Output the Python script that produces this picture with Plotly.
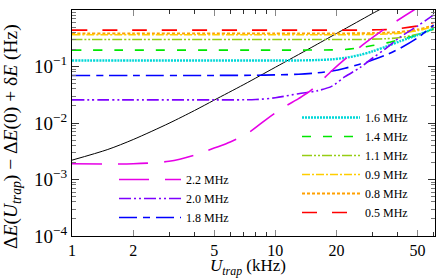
import plotly.graph_objects as go

# ---- data ----
U_black = [1, 1.5, 2, 3, 4, 5, 7, 10, 15, 20, 25, 30, 34]
E_black = [0.0022, 0.0034, 0.0051, 0.0099, 0.0166, 0.0254, 0.048, 0.097, 0.216, 0.385, 0.60, 0.865, 1.1]

U = [1, 2, 5, 8, 10, 13, 16, 19, 22, 26, 30, 35, 41, 50, 60]
E_05 = [0.44, 0.44, 0.44, 0.44, 0.44, 0.44, 0.44, 0.44, 0.44, 0.44, 0.445, 0.45, 0.47, 0.52, 0.60]
E_08 = [0.385, 0.385, 0.385, 0.385, 0.385, 0.385, 0.385, 0.385, 0.385, 0.387, 0.39, 0.395, 0.41, 0.45, 0.53]
E_09 = [0.365, 0.365, 0.365, 0.365, 0.365, 0.365, 0.365, 0.365, 0.365, 0.367, 0.37, 0.375, 0.39, 0.43, 0.51]
E_11 = [0.30, 0.30, 0.30, 0.30, 0.30, 0.30, 0.30, 0.30, 0.30, 0.30, 0.305, 0.31, 0.325, 0.37, 0.45]
E_14 = [0.195, 0.195, 0.195, 0.195, 0.195, 0.195, 0.196, 0.197, 0.20, 0.215, 0.235, 0.26, 0.30, 0.36, 0.47]
E_16 = [0.128, 0.128, 0.128, 0.128, 0.128, 0.128, 0.13, 0.134, 0.142, 0.16, 0.185, 0.225, 0.28, 0.36, 0.47]
E_18 = [0.0695, 0.0695, 0.0695, 0.070, 0.071, 0.073, 0.077, 0.083, 0.093, 0.11, 0.13, 0.16, 0.21, 0.32, 0.54]
E_20 = [0.0257, 0.0257, 0.0257, 0.026, 0.028, 0.033, 0.037, 0.045, 0.066, 0.095, 0.14, 0.21, 0.33, 0.52, 0.82]

U_22 = [1, 2, 3, 4, 5, 6, 7.5, 9, 11, 13, 15, 19, 22, 28, 35, 48, 60]
E_22 = [0.0019, 0.0019, 0.0021, 0.0027, 0.0036, 0.0046, 0.0070, 0.0115, 0.019, 0.027, 0.038,
        0.085, 0.135, 0.27, 0.48, 1.0, 1.6]

labels = ["0.5 MHz", "0.8 MHz", "0.9 MHz", "1.1 MHz", "1.4 MHz", "1.6 MHz", "1.8 MHz", "2.0 MHz", "2.2 MHz"]

x_tickvals = [1, 2, 5, 10, 20, 50]
x_ticktext = ["1", "2", "5", "10", "20", "50"]
x_minor = [3, 4, 6, 7, 8, 9, 30, 40, 60]
y_tickvals = [1e-4, 1e-3, 1e-2, 1e-1, 1]
y_ticktext = ["10<sup>−4</sup>", "10<sup>−3</sup>", "10<sup>−2</sup>", "10<sup>−1</sup>", "10<sup>0</sup>"]
y_minor = [m * 10 ** e for e in (-4, -3, -2, -1) for m in range(2, 10)]

# ---- styles ----
series = [
    (U, E_05, labels[0], "rgb(255,0,0)", "longdash", 1.6, "legend"),
    (U, E_08, labels[1], "rgb(255,160,0)", "3px,2px", 2.0, "legend"),
    (U, E_09, labels[2], "rgb(255,205,0)", "8px,2px,2px,2px", 1.6, "legend"),
    (U, E_11, labels[3], "rgb(150,205,20)", "10px,2px,2px,2px,2px,2px", 1.6, "legend"),
    (U, E_14, labels[4], "rgb(0,230,0)", "9px,12px", 1.6, "legend"),
    (U, E_16, labels[5], "rgb(0,215,215)", "2px,1px", 2.4, "legend"),
    (U, E_18, labels[6], "rgb(0,0,255)", "18px,6px,7px,6px", 1.6, "legend2"),
    (U, E_20, labels[7], "rgb(125,0,255)", "12px,3px,2px,3px,2px,3px", 1.6, "legend2"),
    (U_22, E_22, labels[8], "rgb(230,0,230)", "30px,16px", 1.6, "legend2"),
]

FONT = "Liberation Serif"

fig = go.Figure()
fig.add_trace(go.Scatter(x=U_black, y=E_black, mode="lines", showlegend=False,
                         line=dict(color="black", width=1, shape="spline", smoothing=0.8)))
for x, y, name, col, dash, w, lg in series:
    fig.add_trace(go.Scatter(x=x, y=y, mode="lines", name=name, legend=lg,
                             line=dict(color=col, width=w, dash=dash, shape="spline", smoothing=0.8)))

W, H = 436, 278
ml, mr, mt, mb = 72, 1, 10, 42
pw, ph = W - ml - mr, H - mt - mb

def px_x(p):
    return (p - ml) / pw

def px_y(p):
    return (H - mb - p) / ph

fig.update_layout(
    width=W, height=H,
    margin=dict(l=ml, r=mr, t=mt, b=mb, autoexpand=False),
    plot_bgcolor="white", paper_bgcolor="white",
    font=dict(family=FONT, size=16, color="black"),
    xaxis=dict(type="log", range=[0, 1.785], tickvals=x_tickvals, ticktext=x_ticktext,
               ticks="inside", ticklen=6, tickcolor="#888", showline=True, linecolor="black",
               linewidth=1, mirror="allticks", showgrid=False, zeroline=False, automargin=False,
               tickfont=dict(family=FONT, size=16),
               minor=dict(tickvals=x_minor, ticks="inside", ticklen=4, tickcolor="#333", showgrid=False)),
    yaxis=dict(type="log", range=[-4, 0], tickvals=y_tickvals, ticktext=y_ticktext,
               ticks="inside", ticklen=7, tickcolor="#333", showline=True, linecolor="black",
               linewidth=1, mirror="allticks", showgrid=False, zeroline=False, automargin=False,
               tickfont=dict(family=FONT, size=19),
               minor=dict(tickvals=y_minor, ticks="inside", ticklen=4, tickcolor="#777", showgrid=False)),
    legend=dict(x=px_x(297), y=px_y(103), xanchor="left", yanchor="top", traceorder="reversed",
                bgcolor="rgba(0,0,0,0)", font=dict(family=FONT, size=12), tracegroupgap=0, itemwidth=58),
    legend2=dict(x=px_x(114), y=px_y(165), xanchor="left", yanchor="top", traceorder="reversed",
                 bgcolor="rgba(0,0,0,0)", font=dict(family=FONT, size=12), tracegroupgap=0, itemwidth=62),
)

fig.add_annotation(text="Δ<i>E</i>(<i>U</i><sub><i>trap</i></sub>) − Δ<i>E</i>(0) + δ<i>E</i> (Hz)",
                   xref="paper", yref="paper", x=px_x(12), y=px_y(137), textangle=-90,
                   showarrow=False, xanchor="center", yanchor="middle",
                   font=dict(family=FONT, size=19.5))
fig.add_annotation(text="<i>U</i><sub><i>trap</i></sub> (kHz)",
                   xref="paper", yref="paper", x=px_x(248), y=px_y(267),
                   showarrow=False, xanchor="center", yanchor="middle",
                   font=dict(family=FONT, size=17))

fig.write_html("out.html", config={"displayModeBar": False},
               post_script="document.body.style.margin='0';document.body.style.overflow='hidden';")
